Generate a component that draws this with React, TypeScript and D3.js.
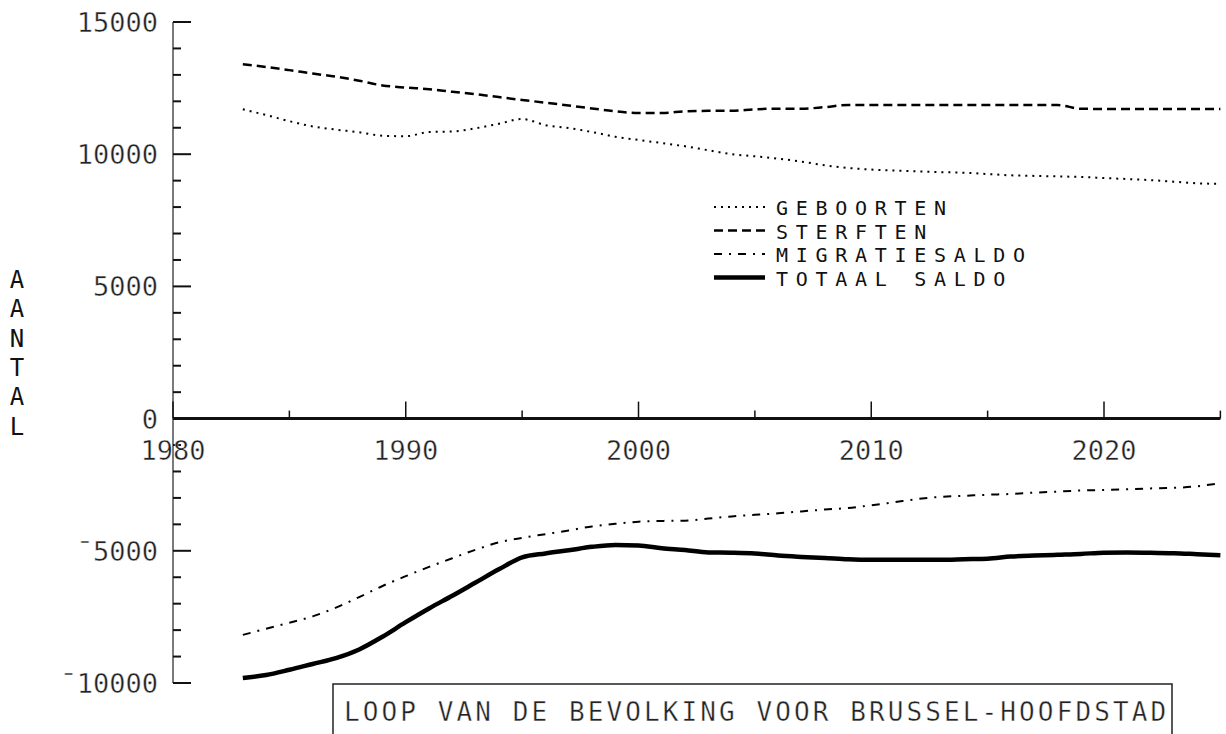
import React from "react";
import * as d3 from "d3";

const years = d3.range(1983, 2026);
const geboorten = [11700, 11480, 11250, 11050, 10930, 10830, 10700, 10680, 10840, 10860, 10980, 11150, 11330, 11100, 10990, 10840, 10660, 10540, 10420, 10300, 10150, 10000, 9920, 9830, 9720, 9580, 9480, 9420, 9380, 9350, 9320, 9300, 9250, 9200, 9180, 9160, 9140, 9100, 9060, 9020, 8960, 8900, 8880];
const sterften = [13400, 13300, 13180, 13050, 12930, 12780, 12600, 12520, 12460, 12360, 12270, 12160, 12050, 11950, 11840, 11730, 11620, 11560, 11560, 11620, 11640, 11640, 11700, 11720, 11720, 11780, 11860, 11860, 11860, 11860, 11860, 11860, 11860, 11860, 11860, 11860, 11720, 11710, 11710, 11710, 11710, 11710, 11710];
const migratiesaldo = [-8180, -7950, -7720, -7480, -7150, -6750, -6330, -5960, -5610, -5280, -4960, -4680, -4510, -4370, -4230, -4080, -3980, -3900, -3870, -3860, -3780, -3700, -3640, -3580, -3510, -3440, -3380, -3280, -3160, -3040, -2960, -2920, -2880, -2850, -2800, -2760, -2720, -2700, -2670, -2640, -2620, -2560, -2440];
const totaalSaldo = [-9810, -9700, -9500, -9280, -9060, -8730, -8250, -7700, -7180, -6700, -6200, -5700, -5250, -5100, -4980, -4850, -4780, -4800, -4900, -4970, -5060, -5070, -5100, -5180, -5230, -5270, -5320, -5340, -5340, -5340, -5340, -5320, -5300, -5220, -5180, -5150, -5120, -5070, -5060, -5070, -5090, -5130, -5170];

const xMajorTicks = [1980, 1990, 2000, 2010, 2020];
const xMinorTicks = [1985, 1995, 2005, 2015, 2025];
const yLabelTicks = [15000, 10000, 5000, 0, -5000, -10000];
const yLabelTexts = ["15000", "10000", "5000", "0", "¯5000", "¯10000"];
const yMinorTicks = d3.range(-10000, 15001, 1000);
const legendLabels = ["GEBOORTEN", "STERFTEN", "MIGRATIESALDO", "TOTAAL SALDO"];
const yAxisLetters = ["A", "A", "N", "T", "A", "L"];
const title = "LOOP VAN DE BEVOLKING VOOR BRUSSEL-HOOFDSTAD";

const FONT = "'DejaVu Sans Mono', monospace";

const styles = [
  { dash: "2 5", width: 2 },
  { dash: "9 5", width: 2.5 },
  { dash: "8 7 2 7", width: 2 },
  { dash: null, width: 4.5 },
];

const thin = { stroke: "#fff", strokeWidth: 0.4 } as const;

export default function App() {
  const x = d3.scaleLinear().domain([1980, 2020]).range([173, 1104]);
  const y = d3.scaleLinear().domain([-10000, 15000]).range([683, 22]);
  const seriesList = [geboorten, sterften, migratiesaldo, totaalSaldo];
  const line = d3
    .line<number>()
    .x((_, i) => x(years[i]))
    .y((d) => y(d))
    .curve(d3.curveMonotoneX);

  const axisX = x(1980);
  const zeroY = y(0);
  const legendRows = [207, 230.5, 254, 277.5];

  return (
    <svg
      width={1226}
      height={734}
      style={{ position: "absolute", left: 0, top: 0, background: "#fff" }}
    >
      <rect x={0} y={0} width={1226} height={734} fill="#fff" />
      {/* y axis */}
      <line x1={axisX} x2={axisX} y1={y(15000)} y2={y(-10000)} stroke="#222" strokeWidth={1.2} />
      {yMinorTicks.map((v) => {
        const major = v % 5000 === 0;
        return (
          <line
            key={"yt" + v}
            x1={axisX}
            x2={axisX + (major ? 18 : 8)}
            y1={y(v)}
            y2={y(v)}
            stroke="#111"
            strokeWidth={2}
          />
        );
      })}
      {yLabelTicks.map((v, i) => (
        <text
          key={"yl" + v}
          x={158}
          y={y(v) + 10}
          textAnchor="end"
          fontFamily={FONT}
          fontSize={27}
          fill="#222"
          {...thin}
        >
          {yLabelTexts[i]}
        </text>
      ))}
      {/* x axis */}
      <line x1={axisX} x2={x(2025)} y1={zeroY} y2={zeroY} stroke="#111" strokeWidth={3} />
      {xMajorTicks.map((v) => (
        <line key={"xt" + v} x1={x(v)} x2={x(v)} y1={zeroY} y2={zeroY - 17} stroke="#111" strokeWidth={1.5} />
      ))}
      {xMinorTicks.map((v) => (
        <line key={"xm" + v} x1={x(v)} x2={x(v)} y1={zeroY} y2={zeroY - 8} stroke="#111" strokeWidth={1.5} />
      ))}
      {xMajorTicks.map((v) => (
        <text
          key={"xl" + v}
          x={x(v)}
          y={zeroY + 41}
          textAnchor="middle"
          fontFamily={FONT}
          fontSize={27}
          fill="#222"
          {...thin}
        >
          {v}
        </text>
      ))}
      {/* vertical axis title */}
      {yAxisLetters.map((c, i) => (
        <text
          key={"al" + i}
          x={17}
          y={288 + i * 29.3}
          textAnchor="middle"
          fontFamily={FONT}
          fontSize={24}
          fill="#111"
        >
          {c}
        </text>
      ))}
      {/* series */}
      {seriesList.map((s, i) => (
        <path
          key={"s" + i}
          d={line(s) || ""}
          fill="none"
          stroke="#000"
          strokeWidth={styles[i].width}
          strokeDasharray={styles[i].dash || undefined}
        />
      ))}
      {/* legend */}
      {legendLabels.map((lab, i) => (
        <g key={"lg" + i}>
          <line
            x1={714}
            x2={765}
            y1={legendRows[i]}
            y2={legendRows[i]}
            stroke="#000"
            strokeWidth={styles[i].width}
            strokeDasharray={styles[i].dash || undefined}
          />
          <text
            x={776}
            y={legendRows[i] + 8}
            fontFamily={FONT}
            fontSize={20}
            letterSpacing={7.7}
            fill="#111"
          >
            {lab}
          </text>
        </g>
      ))}
      {/* title box */}
      <path d="M333,740 L333,684 L1172,684 L1172,740" fill="none" stroke="#222" strokeWidth={1.5} />
      <text x={344} y={721} fontFamily={FONT} fontSize={26} letterSpacing={3.1} fill="#222" {...thin}>
        {title}
      </text>
    </svg>
  );
}
